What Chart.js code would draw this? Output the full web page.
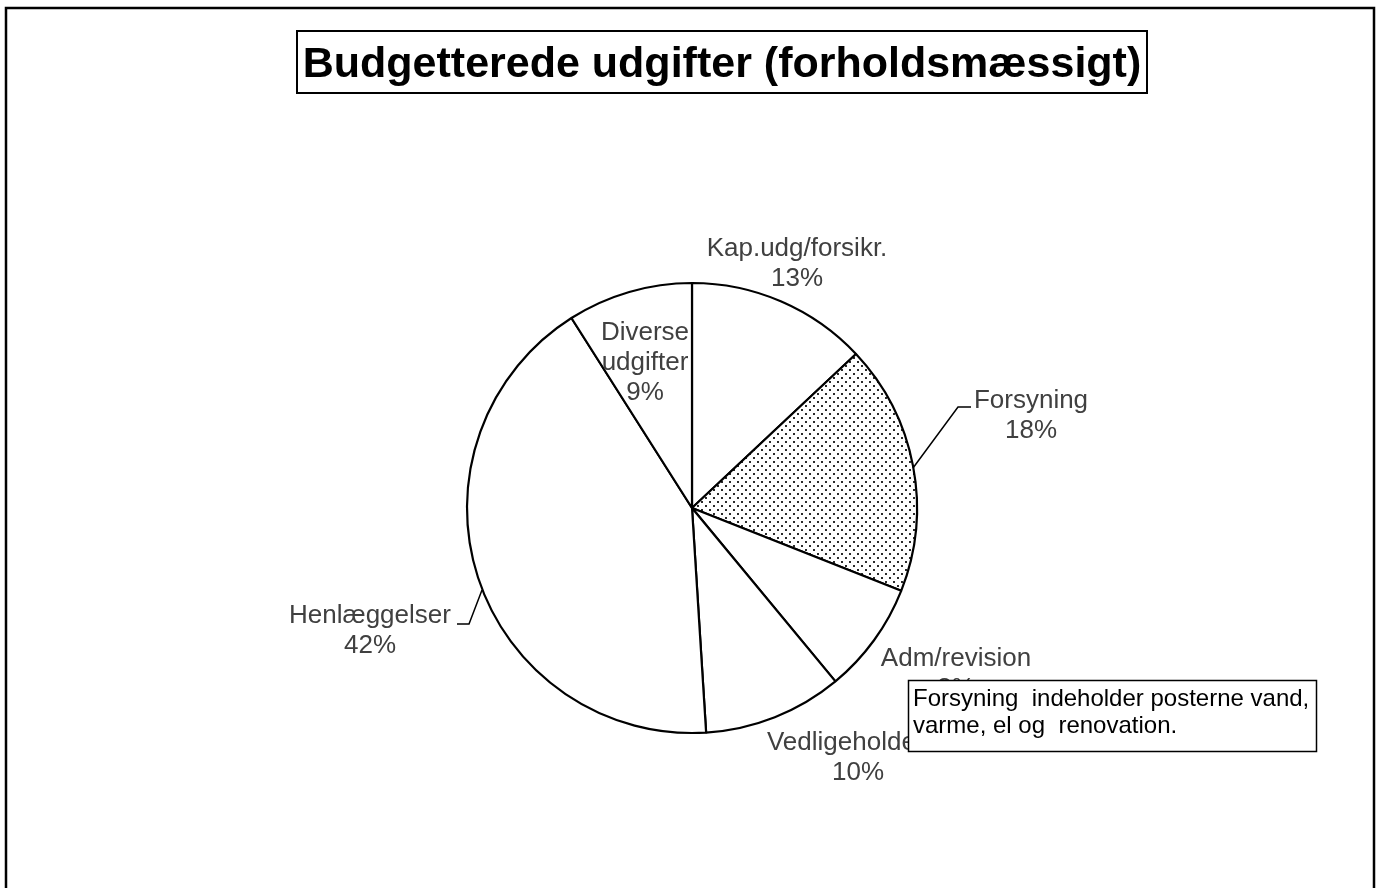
<!DOCTYPE html>
<html><head><meta charset="utf-8">
<script src="https://cdn.jsdelivr.net/npm/chart.js@4/dist/chart.umd.min.js"></script>
<style>html,body{margin:0;padding:0;background:#fff;overflow:hidden}canvas{display:block}</style>
</head><body>
<canvas id="c" width="1376" height="888"></canvas>
<script>
const titleText = 'Budgetterede udgifter (forholdsmæssigt)';
const categories = ['Kap.udg/forsikr.', 'Forsyning', 'Adm/revision', 'Vedligeholdelse', 'Henlæggelser', 'Diverse udgifter'];
const shares = [13, 18, 8, 10, 42, 9];
const noteLines = ['Forsyning  indeholder posterne vand,', 'varme, el og  renovation.'];

// ---- styling / layout (not data) ----
const FONT = '"Liberation Sans", Arial, sans-serif';
const LABEL_COLOR = '#404040';
const labelLayout = [
  {x: 797, y: 249, wrap: false},
  {x: 1031, y: 401, wrap: false},
  {x: 956, y: 659, wrap: false},
  {x: 858, y: 743, wrap: false},
  {x: 370, y: 616, wrap: false},
  {x: 645, y: 333, wrap: true}
];
const leaders = [
  [[971, 407], [958, 407], [913, 468]],
  [[457, 624], [469, 624], [482, 590]]
];

function dotPattern() {
  const t = document.createElement('canvas');
  t.width = 8; t.height = 8;
  const g = t.getContext('2d');
  g.fillStyle = '#fff'; g.fillRect(0, 0, 8, 8);
  g.fillStyle = '#2a2a2a';
  g.fillRect(1, 1, 2, 2);
  g.fillRect(5, 5, 2, 2);
  return document.getElementById('c').getContext('2d').createPattern(t, 'repeat');
}

function drawText(ctx, txt, x, y, font, color, align) {
  ctx.save();
  ctx.font = font;
  ctx.fillStyle = color;
  ctx.textAlign = align || 'center';
  ctx.textBaseline = 'middle';
  ctx.fillText(txt, x, y);
  ctx.restore();
}

const decorations = {
  id: 'decorations',
  afterDraw(chart) {
    const ctx = chart.ctx;
    ctx.save();
    // slice labels
    categories.forEach((name, i) => {
      const L = labelLayout[i];
      const lines = (L.wrap ? name.split(' ') : [name]).concat([shares[i] + '%']);
      lines.forEach((ln, k) => {
        drawText(ctx, ln, L.x, L.y + k * 30, '26px ' + FONT, LABEL_COLOR, 'center');
      });
    });
    // leader lines
    ctx.strokeStyle = '#000';
    ctx.lineWidth = 1.5;
    leaders.forEach(pts => {
      ctx.beginPath();
      ctx.moveTo(pts[0][0], pts[0][1]);
      for (let k = 1; k < pts.length; k++) ctx.lineTo(pts[k][0], pts[k][1]);
      ctx.stroke();
    });
    // note box
    ctx.fillStyle = '#fff';
    ctx.fillRect(908, 680, 408, 72);
    ctx.lineWidth = 1.5;
    ctx.strokeStyle = '#000';
    ctx.strokeRect(908.5, 680.5, 408, 71);
    noteLines.forEach((ln, k) => {
      drawText(ctx, ln, 913, 699 + k * 27.6, '24px ' + FONT, '#000', 'left');
    });
    // title box
    ctx.lineWidth = 2;
    ctx.strokeRect(297, 31, 850, 62);
    ctx.font = 'bold 43px ' + FONT;
    ctx.fillStyle = '#000';
    ctx.textAlign = 'center';
    ctx.textBaseline = 'alphabetic';
    ctx.fillText(titleText, 722, 77);
    // outer frame (open at the bottom)
    ctx.lineWidth = 2.5;
    ctx.beginPath();
    ctx.moveTo(6, 888); ctx.lineTo(6, 8); ctx.lineTo(1374, 8); ctx.lineTo(1374, 888);
    ctx.stroke();
    ctx.restore();
  }
};

const fills = categories.map((c, i) => i === 1 ? dotPattern() : '#ffffff');

new Chart(document.getElementById('c'), {
  type: 'pie',
  data: {
    labels: categories,
    datasets: [{
      data: shares,
      backgroundColor: fills,
      borderColor: '#000',
      borderWidth: 2.2,
      radius: 225
    }]
  },
  options: {
    responsive: false,
    animation: false,
    layout: {padding: {left: 467, right: 459, top: 283, bottom: 155}},
    plugins: {legend: {display: false}, tooltip: {enabled: false}, title: {display: false}}
  },
  plugins: [decorations]
});
</script>
</body></html>
